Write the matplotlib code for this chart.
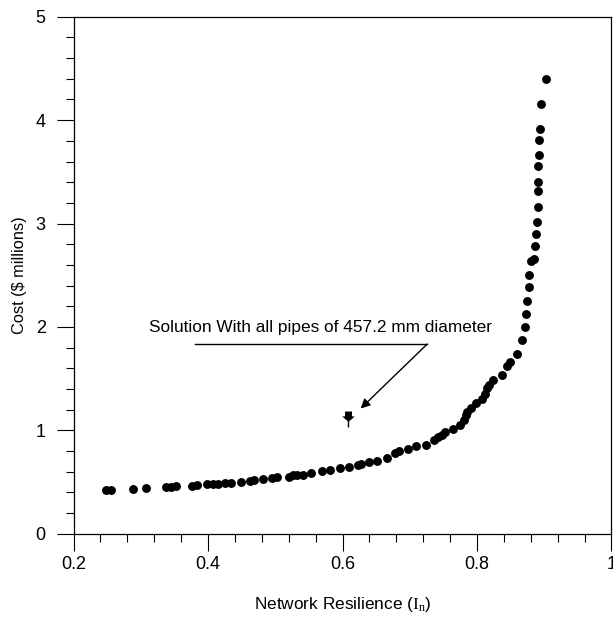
import matplotlib
matplotlib.use('Agg')
import matplotlib.pyplot as plt
from matplotlib.path import Path
from matplotlib.ticker import MultipleLocator

plt.rcParams['font.family'] = ['Liberation Sans', 'DejaVu Sans']
plt.rcParams['mathtext.fontset'] = 'custom'
plt.rcParams['mathtext.rm'] = 'Liberation Serif'

# Pareto front (network resilience vs cost)
resilience = [0.248, 0.255, 0.288, 0.307, 0.338, 0.345, 0.352, 0.376, 0.384,
              0.399, 0.408, 0.415, 0.425, 0.434, 0.449, 0.463, 0.469, 0.482,
              0.495, 0.503, 0.520, 0.527, 0.533, 0.541, 0.553, 0.570, 0.582,
              0.597, 0.610, 0.623, 0.628, 0.640, 0.651, 0.666, 0.678, 0.684,
              0.698, 0.710, 0.724, 0.736, 0.742, 0.748, 0.753, 0.765, 0.774,
              0.780, 0.783, 0.785, 0.791, 0.799, 0.807, 0.812, 0.815, 0.818,
              0.824, 0.837, 0.844, 0.849, 0.859, 0.867, 0.871, 0.873, 0.874,
              0.877, 0.878, 0.880, 0.885, 0.886, 0.888, 0.889, 0.891, 0.891,
              0.891, 0.891, 0.892, 0.892, 0.893, 0.895, 0.903]
cost = [0.424, 0.424, 0.431, 0.446, 0.450, 0.454, 0.465, 0.465, 0.473,
        0.480, 0.480, 0.484, 0.488, 0.490, 0.499, 0.510, 0.518, 0.529,
        0.541, 0.545, 0.552, 0.563, 0.567, 0.571, 0.582, 0.605, 0.613,
        0.632, 0.647, 0.666, 0.677, 0.688, 0.707, 0.730, 0.775, 0.798,
        0.821, 0.843, 0.862, 0.904, 0.934, 0.957, 0.987, 1.01, 1.05,
        1.10, 1.15, 1.18, 1.22, 1.26, 1.30, 1.35, 1.41, 1.44,
        1.49, 1.53, 1.62, 1.66, 1.74, 1.87, 2.00, 2.12, 2.25,
        2.39, 2.50, 2.64, 2.66, 2.78, 2.90, 3.01, 3.16, 3.31,
        3.40, 3.56, 3.66, 3.81, 3.91, 4.16, 4.40]

# all pipes 457.2 mm solution
uniform_x = [0.608]
uniform_y = [1.115]

# pin shaped marker: square head, triangle, stem
pin = Path([(-0.5, 1.0), (0.5, 1.0), (0.5, 0.3), (0.9, 0.3), (0.0, -0.5),
            (-0.9, 0.3), (-0.5, 0.3), (-0.5, 1.0), (-0.1, -0.4), (0.1, -0.4),
            (0.1, -1.3), (-0.1, -1.3), (-0.1, -0.4)],
           [Path.MOVETO, Path.LINETO, Path.LINETO, Path.LINETO, Path.LINETO,
            Path.LINETO, Path.LINETO, Path.CLOSEPOLY, Path.MOVETO, Path.LINETO,
            Path.LINETO, Path.LINETO, Path.CLOSEPOLY])

fig = plt.figure(figsize=(6.13, 6.32), dpi=100)
ax = fig.add_axes([0.12, 0.1557, 0.8775, 0.8177])

ax.plot(resilience, cost, 'o', color='black', markersize=6.4, markeredgewidth=0)
ax.plot(uniform_x, uniform_y, linestyle='none', marker=pin, color='black',
        markersize=13, markeredgewidth=0)

ax.text(0.568, 1.99, 'Solution With all pipes of 457.2 mm diameter',
        ha='center', va='center', fontsize=12.4)
ax.plot([0.380, 0.726], [1.834, 1.834], color='black', linewidth=1.0)
ax.annotate('', xy=(0.627, 1.21), xytext=(0.726, 1.834),
            arrowprops=dict(arrowstyle='-|>', color='black', lw=1.0,
                            mutation_scale=14, shrinkA=0, shrinkB=0))

ax.set_xlim(0.2, 1.0)
ax.set_ylim(0, 5)
ax.xaxis.set_major_locator(MultipleLocator(0.2))
ax.xaxis.set_minor_locator(MultipleLocator(0.04))
ax.yaxis.set_major_locator(MultipleLocator(1))
ax.yaxis.set_minor_locator(MultipleLocator(0.2))
ax.set_xticks([0.2, 0.4, 0.6, 0.8, 1.0])
ax.set_xticklabels(['0.2', '0.4', '0.6', '0.8', '1'])
ax.tick_params(which='major', direction='out', length=12, width=0.8,
               labelsize=13)
ax.tick_params(which='minor', direction='out', length=5.5, width=0.8)
ax.tick_params(axis='y', which='major', pad=8)
ax.tick_params(axis='x', which='major', pad=4)
for s in ax.spines.values():
    s.set_linewidth(0.9)

ax.set_xlabel(r'Network Resilience ($\mathrm{I_n}$)', fontsize=12.4, labelpad=16)
ax.set_ylabel('Cost ($ millions)', fontsize=11.8, labelpad=6)

fig.savefig('out.png', dpi=100)
